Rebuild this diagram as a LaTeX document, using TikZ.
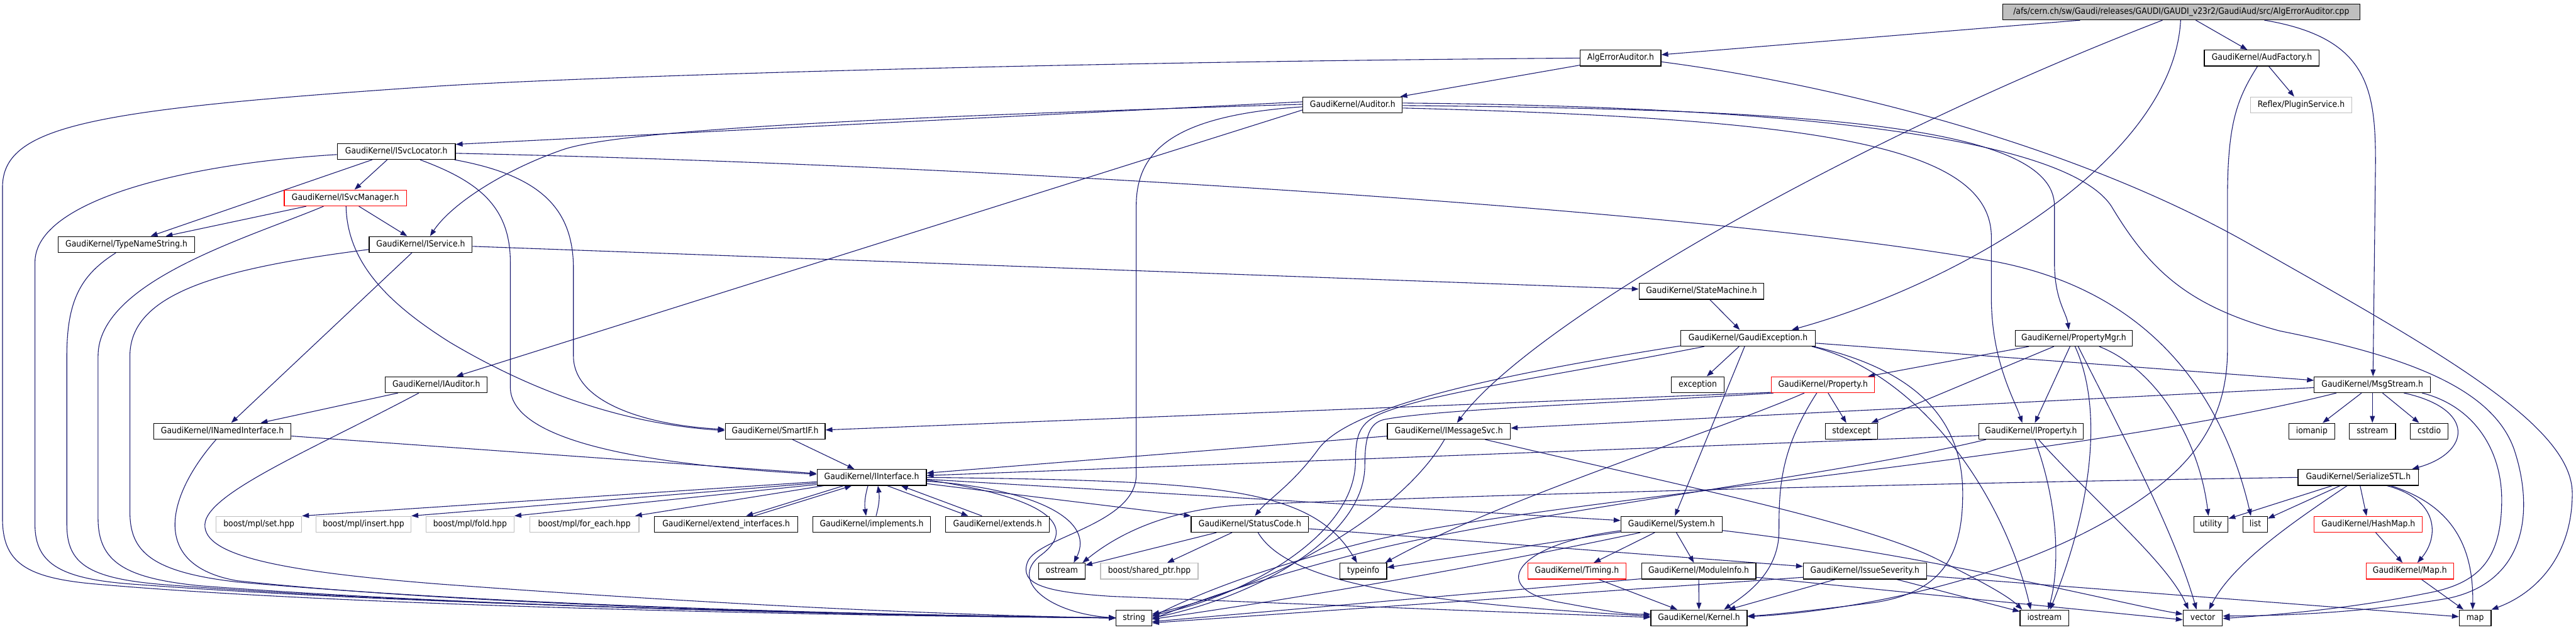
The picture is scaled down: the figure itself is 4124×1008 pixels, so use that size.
\documentclass[tikz,border=0pt]{standalone}
\usepackage{fontspec}
\setmainfont{DejaVu Sans}[FakeStretch=0.9]
\usetikzlibrary{arrows.meta,calc}
\definecolor{edgec}{HTML}{191970}
\definecolor{greyb}{HTML}{BFBFBF}
\definecolor{redb}{HTML}{FF0000}
\pgfdeclarelayer{bg}
\pgfsetlayers{bg,main}
\newcommand{\nodefont}{\fontsize{13.9pt}{16pt}\selectfont}
\tikzset{
  nbox/.style={draw=black, line width=1.2pt, fill=white, minimum height=25.5pt, inner sep=0pt, text height=10pt, text depth=3pt, font=\nodefont},
  gbox/.style={nbox, draw=greyb},
  rbox/.style={nbox, draw=redb},
  rootbox/.style={nbox, fill=greyb},
  edg/.style={draw=edgec, line width=1.1pt, -{Triangle[length=11pt,width=8pt]}}
}
\begin{document}
\begin{tikzpicture}[x=1pt,y=-1pt]
\useasboundingbox (0,0) rectangle (4124,1008);
% nodes
\node[rootbox, minimum width=572pt] (root) at (3492,19) {/afs/cern.ch/sw/Gaudi/releases/GAUDI/GAUDI\_v23r2/GaudiAud/src/AlgErrorAuditor.cpp};
\node[nbox, minimum width=129pt] (alg) at (2594.5,93) {AlgErrorAuditor.h};
\node[nbox, minimum width=184pt] (audf) at (3621,93) {GaudiKernel/AudFactory.h};
\node[nbox, minimum width=159pt] (aud) at (2165.5,168) {GaudiKernel/Auditor.h};
\node[gbox, minimum width=162pt] (refl) at (3684,168) {Reflex/PluginService.h};
\node[nbox, minimum width=189pt] (isl) at (634.5,242.5) {GaudiKernel/ISvcLocator.h};
\node[rbox, minimum width=196pt] (ism) at (553,317) {GaudiKernel/ISvcManager.h};
\node[nbox, minimum width=219pt] (tns) at (202.5,391.5) {GaudiKernel/TypeNameString.h};
\node[nbox, minimum width=165pt] (isv) at (673.5,391.5) {GaudiKernel/IService.h};
\node[nbox, minimum width=200pt] (stm) at (2724,466.5) {GaudiKernel/StateMachine.h};
\node[nbox, minimum width=215pt] (gex) at (2798.5,541.5) {GaudiKernel/GaudiException.h};
\node[nbox, minimum width=188pt] (pmgr) at (3320,541.5) {GaudiKernel/PropertyMgr.h};
\node[nbox, minimum width=163pt] (iaud) at (698.5,616) {GaudiKernel/IAuditor.h};
\node[nbox, minimum width=84pt] (exc) at (2718,616) {exception};
\node[rbox, minimum width=165pt] (prop) at (2918.5,616) {GaudiKernel/Property.h};
\node[nbox, minimum width=186pt] (msg) at (3798,616) {GaudiKernel/MsgStream.h};
\node[nbox, minimum width=220pt] (inam) at (356,690.5) {GaudiKernel/INamedInterface.h};
\node[nbox, minimum width=160pt] (smif) at (1241,690.5) {GaudiKernel/SmartIF.h};
\node[nbox, minimum width=197pt] (imsg) at (2319.5,690.5) {GaudiKernel/IMessageSvc.h};
\node[nbox, minimum width=84pt] (stdx) at (2964,690.5) {stdexcept};
\node[nbox, minimum width=167pt] (iprop) at (3251.5,690.5) {GaudiKernel/IProperty.h};
\node[nbox, minimum width=74pt] (ioma) at (3701,690.5) {iomanip};
\node[nbox, minimum width=74pt] (sstr) at (3798,690.5) {sstream};
\node[nbox, minimum width=60pt] (cstd) at (3889,690.5) {cstdio};
\node[nbox, minimum width=175pt] (iint) at (1395.5,764.5) {GaudiKernel/IInterface.h};
\node[nbox, minimum width=193pt] (sstl) at (3775.5,764.5) {GaudiKernel/SerializeSTL.h};
\node[gbox, minimum width=137pt] (set) at (414.5,839.5) {boost/mpl/set.hpp};
\node[gbox, minimum width=152pt] (ins) at (582,839.5) {boost/mpl/insert.hpp};
\node[gbox, minimum width=141pt] (fold) at (752.5,839.5) {boost/mpl/fold.hpp};
\node[gbox, minimum width=175pt] (fore) at (935.5,839.5) {boost/mpl/for\_each.hpp};
\node[nbox, minimum width=229pt] (extif) at (1162.5,839.5) {GaudiKernel/extend\_interfaces.h};
\node[nbox, minimum width=189pt] (impl) at (1395.5,839.5) {GaudiKernel/implements.h};
\node[nbox, minimum width=166pt] (ext) at (1597,839.5) {GaudiKernel/extends.h};
\node[nbox, minimum width=188pt] (stc) at (2001,839.5) {GaudiKernel/StatusCode.h};
\node[nbox, minimum width=162pt] (sys) at (2676,839.5) {GaudiKernel/System.h};
\node[nbox, minimum width=55pt] (util) at (3539.5,839.5) {utility};
\node[nbox, minimum width=39pt] (list) at (3610.5,839.5) {list};
\node[rbox, minimum width=173pt] (hmap) at (3791.5,839.5) {GaudiKernel/HashMap.h};
\node[nbox, minimum width=74pt] (ostr) at (1700,914.5) {ostream};
\node[gbox, minimum width=156pt] (shp) at (1840,914.5) {boost/shared\_ptr.hpp};
\node[nbox, minimum width=75pt] (tinf) at (2182.5,914.5) {typeinfo};
\node[rbox, minimum width=157pt] (tim) at (2524.5,914.5) {GaudiKernel/Timing.h};
\node[nbox, minimum width=183pt] (modi) at (2719.5,914.5) {GaudiKernel/ModuleInfo.h};
\node[nbox, minimum width=197pt] (isev) at (2985.5,914.5) {GaudiKernel/IssueSeverity.h};
\node[rbox, minimum width=140pt] (mapH) at (3858,914.5) {GaudiKernel/Map.h};
\node[nbox, minimum width=57pt] (str) at (1815.5,989.5) {string};
\node[nbox, minimum width=154pt] (kern) at (2720,989.5) {GaudiKernel/Kernel.h};
\node[nbox, minimum width=78pt] (iost) at (3273,989.5) {iostream};
\node[nbox, minimum width=63pt] (vec) at (3526.5,989.5) {vector};
\node[nbox, minimum width=51pt] (map) at (3962.5,989.5) {map};

\begin{pgfonlayer}{bg}
\fill[white] (0,0) rectangle (4124,1008);
% root
\draw[edg] (root) -- (alg);
\draw[edg] (root) -- (audf);
\draw[edg] ($(root.south)+(133,0)$) .. controls (3790,60) and (3803,140) .. (3803,260) -- ($(msg.north)+(1,0)$);
\draw[edg] ($(root.south)+(-30,0)$) .. controls (2950,230) and (2450,520) .. ($(imsg.north)+(13,0)$);
\draw[edg] ($(root.south)+(-1,0)$) .. controls (3480,250) and (3150,450) .. ($(gex.north)+(70,0)$);
% alg
\draw[edg] (alg) -- (aud);
\draw[edg] (alg.west) .. controls (1600,100) and (900,125) .. (700,138) .. controls (150,175) and (4,200) .. (4,300) -- (4,830) .. controls (4,900) and (40,925) .. (150,935) .. controls (600,975) and (1500,988) .. (str.west);
\draw[edg] ($(alg.east)+(0,6)$) .. controls (2900,130) and (3300,220) .. (3600,390) .. controls (3900,560) and (4118,680) .. (4118,790) .. controls (4118,890) and (4060,950) .. (map.north east);
% audf
\draw[edg] (audf) -- (refl);
\draw[edg] ($(audf.south)+(-7,0)$) .. controls (3580,160) and (3566,200) .. (3566,320) -- (3566,560) .. controls (3566,700) and (3480,770) .. (3380,830) .. controls (3200,935) and (2950,980) .. ($(kern.east)+(0,-2)$);
% aud
\draw[edg] ($(aud.west)+(0,-5)$) -- ($(isl.north east)+(0,2)$);
\draw[edg] ($(aud.west)+(0,-1)$) .. controls (1500,185) and (1000,205) .. (900,240) .. controls (800,275) and (720,330) .. ($(isv.north)+(15,0)$);
\draw[edg] ($(aud.west)+(0,8)$) -- ($(iaud.north)+(32,0)$);
\draw[edg] ($(aud.west)+(0,3)$) .. controls (1880,185) and (1819,240) .. (1819,330) -- (1819,760) .. controls (1819,840) and (1660,860) .. (1645,900) .. controls (1632,935) and (1670,948) .. (1780,955) .. controls (2150,970) and (2450,982) .. ($(kern.west)+(0,-1)$);
\draw[edg] ($(aud.east)+(0,1)$) .. controls (2900,175) and (3289,200) .. (3289,330) -- (3289,420) .. controls (3289,480) and (3308,500) .. ($(pmgr.north)+(-8,0)$);
\draw[edg] ($(aud.east)+(0,5)$) .. controls (2900,190) and (3188,230) .. (3188,380) -- (3188,480) .. controls (3189,580) and (3225,640) .. ($(iprop.north)+(-14,0)$);
\draw[edg] ($(aud.east)+(0,-3)$) .. controls (2800,170) and (3300,210) .. (3380,330) .. controls (3440,430) and (3500,490) .. (3650,530) .. controls (3850,570) and (3990,620) .. (4025,720) .. controls (4055,810) and (4050,930) .. (3920,958) .. controls (3780,982) and (3650,986) .. ($(vec.east)+(0,-3)$);
% isl
\draw[edg] (isl) -- (ism);
\draw[edg] (isl) -- (tns);
\draw[edg] ($(isl.west)+(0,5)$) .. controls (300,262) and (56,320) .. (56,420) -- (56,840) .. controls (56,905) and (100,928) .. (220,936) .. controls (700,972) and (1500,986) .. (str.west);
\draw[edg] ($(isl.south)+(38,0)$) .. controls (765,290) and (817,330) .. (817,420) -- (817,620) .. controls (817,710) and (1050,745) .. ($(iint.west)+(0,-5)$);
\draw[edg] ($(isl.south east)+(-2,0)$) .. controls (860,280) and (918,330) .. (918,430) -- (918,570) .. controls (918,650) and (1050,682) .. ($(smif.west)+(0,-3)$);
\draw[edg] ($(isl.east)+(0,3)$) .. controls (1500,262) and (2700,330) .. (3200,420) .. controls (3450,470) and (3560,640) .. ($(list.north)+(-7,0)$);
% ism
\draw[edg] (ism) -- (tns);
\draw[edg] (ism) -- (isv);
\draw[edg] ($(ism.south)+(1,0)$) .. controls (556,420) and (620,485) .. (720,548) .. controls (900,655) and (1050,682) .. ($(smif.west)+(0,-1)$);
\draw[edg] ($(ism.south)+(-35,0)$) .. controls (400,380) and (157,450) .. (157,570) -- (157,830) .. controls (157,900) and (200,926) .. (320,938) .. controls (800,975) and (1500,987) .. (str.west);
% tns
\draw[edg] ($(tns.south)+(-17,0)$) .. controls (130,440) and (107,480) .. (107,570) -- (107,840) .. controls (107,902) and (140,926) .. (260,936) .. controls (750,974) and (1500,986) .. (str.west);
% isv
\draw[edg] (isv) -- (inam);
\draw[edg] (isv) -- (stm);
\draw[edg] ($(isv.west)+(0,8)$) .. controls (350,430) and (208,470) .. (208,570) -- (208,820) .. controls (208,882) and (240,916) .. (380,932) .. controls (850,974) and (1500,986) .. (str.west);
% stm
\draw[edg] (stm) -- (gex);
% gex
\draw[edg] (gex) -- (exc);
\draw[edg] (gex) -- (sys);
\draw[edg] ($(gex.south west)+(0,-1)$) .. controls (2400,600) and (2160,650) .. (2110,720) .. controls (2070,775) and (2030,800) .. ($(stc.north)+(8,0)$);
\draw[edg] ($(gex.south west)+(38,0)$) .. controls (2500,600) and (2280,630) .. (2205,665) .. controls (2175,680) and (2170,700) .. (2170,740) .. controls (2168,860) and (1990,955) .. ($(str.east)+(0,-4)$);
\draw[edg] (gex) -- (msg);
\draw[edg] ($(gex.south east)+(-3,0)$) .. controls (3100,600) and (3145,700) .. (3142,800) .. controls (3140,900) and (3100,950) .. (3000,965) .. controls (2900,978) and (2830,985) .. ($(kern.east)+(0,-3)$);
\draw[edg] ($(gex.south east)+(-6,0)$) .. controls (3080,600) and (3210,800) .. ($(iost.north)+(-22,0)$);
% pmgr
\draw[edg] (pmgr) -- (prop);
\draw[edg] (pmgr) -- (stdx);
\draw[edg] (pmgr) -- (iprop);
\draw[edg] ($(pmgr.south)+(2,0)$) .. controls (3370,660) and (3345,820) .. ($(iost.north)+(9,0)$);
\draw[edg] ($(pmgr.south)+(7,0)$) .. controls (3400,700) and (3480,850) .. ($(vec.north)+(-10,0)$);
\draw[edg] ($(pmgr.south east)+(-54,0)$) .. controls (3450,590) and (3520,700) .. ($(util.north)+(-4,0)$);
% iaud
\draw[edg] (iaud) -- (inam);
\draw[edg] ($(iaud.south)+(-28,0)$) .. controls (500,720) and (330,790) .. (328,840) .. controls (326,890) and (450,915) .. (700,935) .. controls (1100,965) and (1500,985) .. (str.west);
% inam
\draw[edg] (inam) -- (iint);
\draw[edg] ($(inam.south)+(-10,0)$) .. controls (270,790) and (235,905) .. (380,930) .. controls (800,975) and (1500,986) .. (str.west);
% smif
\draw[edg] (smif) -- (iint);
% prop
\draw[edg] ($(prop.south west)+(0,-1)$) -- ($(smif.east)+(0,-2)$);
\draw[edg] (prop) -- (stdx);
\draw[edg] ($(prop.south)+(-10,0)$) .. controls (2850,720) and (2848,780) .. (2848,850) .. controls (2848,920) and (2790,955) .. ($(kern.north)+(40,0)$);
\draw[edg] ($(prop.south)+(-30,0)$) .. controls (2750,690) and (2400,800) .. ($(tinf.north east)+(-3,0)$);
\draw[edg] ($(prop.south west)+(4,0)$) .. controls (2600,645) and (2300,655) .. (2215,672) .. controls (2192,678) and (2185,700) .. (2185,745) .. controls (2185,865) and (2000,958) .. (str.east);
% msg
\draw[edg] (msg) -- (ioma);
\draw[edg] (msg) -- (sstr);
\draw[edg] (msg) -- (cstd);
\draw[edg] ($(msg.south east)+(-43,0)$) .. controls (3965,655) and (3955,725) .. ($(sstl.north)+(86,0)$);
\draw[edg] ($(msg.south east)+(-14,0)$) .. controls (3960,650) and (4005,720) .. (4005,800) .. controls (4005,900) and (3965,935) .. (3885,950) .. controls (3760,975) and (3650,984) .. ($(vec.east)+(0,1)$);
\draw[edg] (msg) -- (imsg);
\draw[edg] ($(msg.south west)+(36,0)$) .. controls (3300,740) and (2450,800) .. (2180,870) .. controls (2000,915) and (1900,960) .. ($(str.east)+(0,-2)$);
% sstl
\draw[edg] (sstl) -- (util);
\draw[edg] (sstl) -- (list);
\draw[edg] ($(sstl.south)+(-18,0)$) .. controls (3680,830) and (3575,900) .. ($(vec.north)+(10,0)$);
\draw[edg] (sstl) -- (hmap);
\draw[edg] ($(sstl.south)+(46,0)$) .. controls (3905,800) and (3905,860) .. ($(mapH.north)+(12,0)$);
\draw[edg] ($(sstl.south)+(52,0)$) .. controls (3930,810) and (3960,880) .. ($(map.north)+(-4,0)$);
\draw[edg] (sstl.west) .. controls (3000,775) and (2300,795) .. (2000,808) .. controls (1870,814) and (1790,855) .. ($(ostr.north)+(33,0)$);
\draw[edg] (hmap) -- (mapH);
\draw[edg] (mapH) -- (map);
% iint
\draw[edg] ($(iint.west)+(0,7)$) -- (set.north east);
\draw[edg] ($(iint.west)+(0,9)$) -- (ins.north east);
\draw[edg] ($(iint.south west)+(0,-2)$) -- (fold.north east);
\draw[edg] ($(iint.south west)+(11,0)$) -- ($(fore.north east)+(-7,0)$);
\draw[edg] ($(iint.south)+(-45,0)$) -- ($(extif.north)+(32,0)$);
\draw[edg] ($(extif.north)+(45,0)$) -- ($(iint.south)+(-32,0)$);
\draw[edg] ($(iint.south)+(-6,0)$) to[bend right=12] ($(impl.north)+(-9,0)$);
\draw[edg] ($(impl.north)+(7,0)$) to[bend right=12] ($(iint.south)+(10,0)$);
\draw[edg] ($(iint.south)+(25,0)$) -- ($(ext.north)+(-47,0)$);
\draw[edg] ($(ext.north)+(-25,0)$) -- ($(iint.south)+(47,0)$);
\draw[edg] ($(iint.east)+(0,3)$) -- ($(sys.west)+(0,-6)$);
\draw[edg] ($(iint.east)+(0,10)$) -- (stc.north west);
\draw[edg] ($(iint.east)+(0,6)$) .. controls (1650,782) and (1755,830) .. ($(ostr.north)+(19,0)$);
\draw[edg] ($(iint.east)+(0,4)$) .. controls (1700,800) and (1720,850) .. (1665,890) .. controls (1615,930) and (1680,982) .. (str.west);
\draw[edg] (iint.east) .. controls (1950,770) and (2100,780) .. ($(tinf.north)+(-10,0)$);
% stc
\draw[edg] (stc) -- (ostr);
\draw[edg] (stc) -- (shp);
\draw[edg] ($(stc.south)+(13,0)$) .. controls (2060,930) and (2250,965) .. ($(kern.west)+(0,-3)$);
\draw[edg] (stc) -- (isev);
% sys
\draw[edg] (sys) -- (tinf);
\draw[edg] (sys) -- (tim);
\draw[edg] (sys) -- (modi);
\draw[edg] ($(sys.south west)+(0,-3)$) .. controls (2420,872) and (2380,945) .. (2500,965) .. controls (2560,976) and (2600,984) .. ($(kern.west)+(0,-6)$);
\draw[edg] ($(sys.south)+(-50,0)$) .. controls (2380,905) and (2100,955) .. ($(str.east)+(0,2)$);
\draw[edg] ($(sys.east)+(0,10)$) .. controls (3100,890) and (3400,968) .. ($(vec.west)+(0,-6)$);
% modi
\draw[edg] (modi) -- (kern);
\draw[edg] ($(modi.south west)+(0,-1)$) -- ($(str.east)+(0,6)$);
\draw[edg] ($(modi.east)+(0,10)$) -- ($(vec.west)+(0,3)$);
% tim
\draw[edg] (tim) -- (kern);
% isev
\draw[edg] (isev) -- (kern);
\draw[edg] (isev) -- (iost);
\draw[edg] ($(isev.west)+(0,10)$) -- ($(str.east)+(0,8)$);
\draw[edg] (isev) -- (map);
% iprop
\draw[edg] ($(iprop.west)+(0,7)$) -- ($(iint.east)+(0,-3)$);
\draw[edg] ($(iprop.south)+(6,0)$) .. controls (3300,820) and (3295,920) .. ($(iost.north)+(6,0)$);
\draw[edg] ($(iprop.south)+(12,0)$) .. controls (3350,800) and (3470,900) .. ($(vec.north)+(-23,0)$);
\draw[edg] ($(iprop.south west)+(12,0)$) .. controls (2950,760) and (2450,820) .. (2200,880) .. controls (2020,925) and (1910,965) .. ($(str.east)+(0,2)$);
% imsg
\draw[edg] (imsg) -- (iint);
\draw[edg] ($(imsg.south)+(58,0)$) .. controls (2700,780) and (3000,840) .. (3110,900) .. controls (3180,935) and (3215,955) .. ($(iost.north west)+(4,0)$);
\draw[edg] ($(imsg.south)+(-7,0)$) .. controls (2245,820) and (2050,935) .. ($(str.east)+(0,-6)$);
\end{pgfonlayer}
\end{tikzpicture}
\end{document}
